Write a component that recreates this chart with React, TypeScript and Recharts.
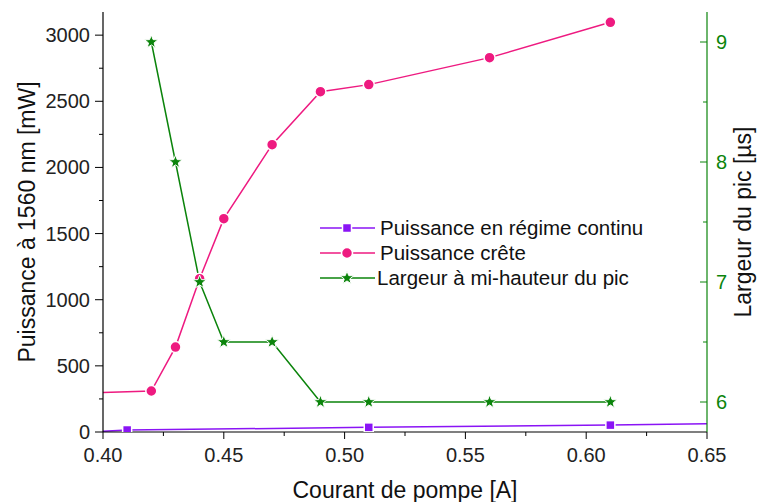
import React from 'react';
import { LineChart, Line, XAxis, YAxis, Legend } from 'recharts';

// Courant de pompe [A]
const cwX = [0.40, 0.41, 0.51, 0.61, 0.65];
const cwPower = [5, 15, 35, 52, 62]; // mW
const cwMarked = [false, true, true, true, false];

const peakX = [0.40, 0.42, 0.43, 0.44, 0.45, 0.47, 0.49, 0.51, 0.56, 0.61];
const peakPower = [298, 310, 642, 1159, 1613, 2172, 2573, 2626, 2830, 3097]; // mW
const peakMarked = [false, true, true, true, true, true, true, true, true, true];

const widthX = [0.42, 0.43, 0.44, 0.45, 0.47, 0.49, 0.51, 0.56, 0.61];
const widthUs = [9.0, 8.0, 7.0, 6.5, 6.5, 6.0, 6.0, 6.0, 6.0]; // µs

const xTicks = [0.40, 0.425, 0.45, 0.475, 0.50, 0.525, 0.55, 0.575, 0.60, 0.625, 0.65];
const leftTicks = [0, 250, 500, 750, 1000, 1250, 1500, 1750, 2000, 2250, 2500, 2750, 3000];
const rightTicks = [6, 6.5, 7, 7.5, 8, 8.5, 9];

const seriesNames = ['Puissance en régime continu', 'Puissance crête', 'Largeur à mi-hauteur du pic'];
const xTitle = 'Courant de pompe [A]';
const leftTitle = 'Puissance à 1560 nm [mW]';
const rightTitle = 'Largeur du pic [µs]';

const cwData = cwX.map((x, i) => ({ x, y: cwPower[i], m: cwMarked[i] }));
const peakData = peakX.map((x, i) => ({ x, y: peakPower[i], m: peakMarked[i] }));
const widthData = widthX.map((x, i) => ({ x, y: widthUs[i], m: true }));

const FONT = '"Liberation Sans", Arial, sans-serif';
const PURPLE = '#8a14f5';
const PINK = '#ee1a80';
const GREEN = '#0b840b';

const starPoints = (cx: number, cy: number, R: number) => {
  const r = R * 0.42;
  const pts: string[] = [];
  for (let i = 0; i < 10; i++) {
    const rad = i % 2 === 0 ? R : r;
    const a = -Math.PI / 2 + (i * Math.PI) / 5;
    pts.push(`${cx + rad * Math.cos(a)},${cy + rad * Math.sin(a)}`);
  }
  return pts.join(' ');
};

const Square = ({ cx, cy }: any) => (
  <rect x={cx - 4.5} y={cy - 4.5} width={9} height={9} fill={PURPLE} stroke="#fff" strokeWidth={1.5} />
);
const Circle = ({ cx, cy }: any) => <circle cx={cx} cy={cy} r={5.5} fill={PINK} stroke="#fff" strokeWidth={1.5} />;
const Star = ({ cx, cy }: any) => <polygon points={starPoints(cx, cy, 7)} fill={GREEN} stroke="#fff" strokeWidth={1} />;

const dotFor = (Shape: any) => (props: any) => {
  const { cx, cy, payload, index } = props;
  if (!payload || !payload.m || cx == null || cy == null) return <g key={`d${index}`} />;
  return <Shape key={`d${index}`} cx={cx} cy={cy} />;
};

const XTick = ({ x, y, payload }: any) => {
  const v = payload.value;
  const major = Math.abs(Math.round(v * 20) - v * 20) < 1e-6;
  return (
    <g>
      <line x1={x} x2={x} y1={y} y2={y + (major ? 7 : 4)} stroke="#000" strokeWidth={1} />
      {major && (
        <text x={x} y={y + 30} textAnchor="middle" fontFamily={FONT} fontSize={20} fill="#222">
          {v.toFixed(2)}
        </text>
      )}
    </g>
  );
};

const LeftTick = ({ x, y, payload }: any) => {
  const v = payload.value;
  const major = v % 500 === 0;
  return (
    <g>
      <line x1={x - (major ? 8 : 4)} x2={x} y1={y} y2={y} stroke="#000" strokeWidth={1} />
      {major && (
        <text x={x - 13} y={y + 7} textAnchor="end" fontFamily={FONT} fontSize={20} fill="#222">
          {v}
        </text>
      )}
    </g>
  );
};

const RightTick = ({ x, y, payload }: any) => {
  const v = payload.value;
  const major = Number.isInteger(v);
  return (
    <g>
      <line x1={x - (major ? 7 : 4)} x2={x} y1={y} y2={y} stroke={GREEN} strokeWidth={1} />
      {major && (
        <text x={x + 9} y={y + 7} textAnchor="start" fontFamily={FONT} fontSize={20} fill={GREEN}>
          {v}
        </text>
      )}
    </g>
  );
};

const XTitle = ({ viewBox }: any) => (
  <text x={viewBox.x + viewBox.width / 2} y={viewBox.y + 66} textAnchor="middle" fontFamily={FONT} fontSize={23} fill="#111">
    {xTitle}
  </text>
);
const LeftTitle = ({ viewBox }: any) => {
  const cx = viewBox.x + 27;
  const cy = viewBox.y + viewBox.height / 2;
  return (
    <text x={cx} y={cy} transform={`rotate(-90 ${cx} ${cy})`} textAnchor="middle" dominantBaseline="central" fontFamily={FONT} fontSize={23} fill="#111">
      {leftTitle}
    </text>
  );
};
const RightTitle = ({ viewBox }: any) => {
  const cx = viewBox.x + 36;
  const cy = viewBox.y + viewBox.height / 2;
  return (
    <text x={cx} y={cy} transform={`rotate(-90 ${cx} ${cy})`} textAnchor="middle" dominantBaseline="central" fontFamily={FONT} fontSize={23} fill="#111">
      {rightTitle}
    </text>
  );
};

const shapes = [Square, Circle, Star];
const colors = [PURPLE, PINK, GREEN];

const renderLegend = () => (
  <svg width={360} height={80} style={{ display: 'block', overflow: 'visible' }}>
    {seriesNames.map((name, i) => {
      const cy = 12 + i * 25;
      const Shape = shapes[i];
      return (
        <g key={name}>
          <line x1={2} x2={57} y1={cy} y2={cy} stroke={colors[i]} strokeWidth={1.5} />
          <Shape cx={29} cy={cy} />
          <text x={i === 2 ? 59 : 62} y={cy + 7} fontFamily={FONT} fontSize={20.5} fill="#111">
            {name}
          </text>
        </g>
      );
    })}
  </svg>
);

export default function App() {
  return (
    <div style={{ position: 'absolute', left: 0, top: 0, width: 758, height: 502, background: '#fff' }}>
      <LineChart width={758} height={502} margin={{ top: 12, right: 0, bottom: 0, left: 0 }}>
        <XAxis
          dataKey="x"
          type="number"
          domain={[0.4, 0.65]}
          ticks={xTicks}
          allowDataOverflow
          height={70}
          axisLine={{ stroke: '#000', strokeWidth: 1.2 }}
          tickLine={false}
          tickSize={0}
          tickMargin={0}
          tick={<XTick />}
          interval={0}
          label={<XTitle />}
        />
        <YAxis
          yAxisId="left"
          type="number"
          domain={[0, 3175]}
          ticks={leftTicks}
          allowDataOverflow
          width={103}
          axisLine={{ stroke: '#000', strokeWidth: 1.2 }}
          tickLine={false}
          tickSize={0}
          tickMargin={0}
          tick={<LeftTick />}
          interval={0}
          label={<LeftTitle />}
        />
        <YAxis
          yAxisId="right"
          orientation="right"
          type="number"
          domain={[5.75, 9.25]}
          ticks={rightTicks}
          allowDataOverflow
          width={51}
          axisLine={{ stroke: GREEN, strokeWidth: 1.2 }}
          tickLine={false}
          tickSize={0}
          tickMargin={0}
          tick={<RightTick />}
          interval={0}
          label={<RightTitle />}
        />
        <Legend
          content={renderLegend}
          layout="horizontal"
          verticalAlign="middle"
          align="center"
          wrapperStyle={{ position: 'absolute', left: 318, top: 216, width: 360, height: 80 }}
        />
        <Line
          yAxisId="left"
          data={cwData}
          dataKey="y"
          name={seriesNames[0]}
          stroke={PURPLE}
          strokeWidth={1.5}
          dot={dotFor(Square)}
          activeDot={false}
          isAnimationActive={false}
        />
        <Line
          yAxisId="left"
          data={peakData}
          dataKey="y"
          name={seriesNames[1]}
          stroke={PINK}
          strokeWidth={1.5}
          dot={dotFor(Circle)}
          activeDot={false}
          isAnimationActive={false}
        />
        <Line
          yAxisId="right"
          data={widthData}
          dataKey="y"
          name={seriesNames[2]}
          stroke={GREEN}
          strokeWidth={1.5}
          dot={dotFor(Star)}
          activeDot={false}
          isAnimationActive={false}
        />
      </LineChart>
    </div>
  );
}
